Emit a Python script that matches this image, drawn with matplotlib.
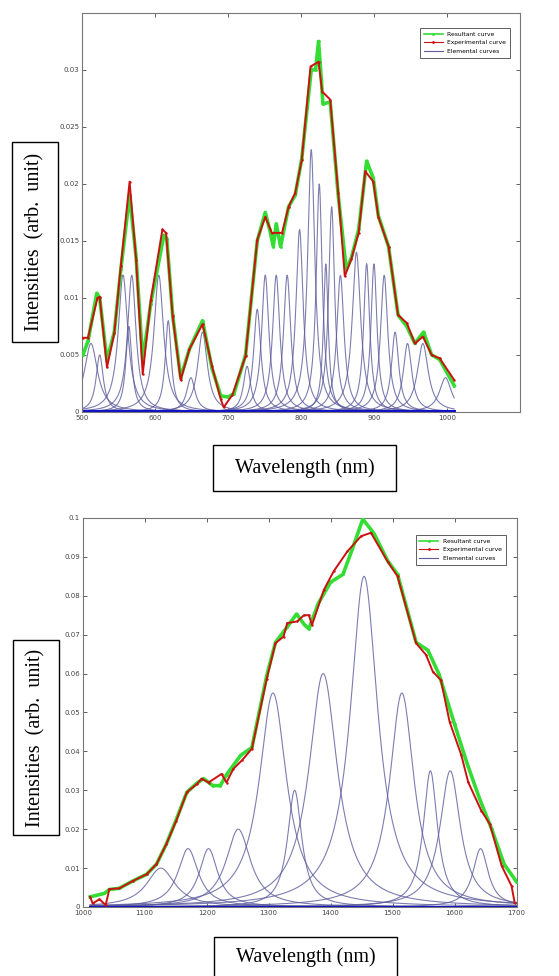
import numpy as np
import matplotlib
matplotlib.use('Agg')
import matplotlib.pyplot as plt
from matplotlib.patches import Rectangle

# ---- top panel data (500-1010 nm) ----
top_exp_x = [501, 508, 521, 524, 534, 544, 553, 565, 574, 583, 594, 610, 615, 624, 635, 647,
             665, 678, 690, 694, 706, 724, 740, 751, 760, 774, 783, 792, 801, 813, 824, 829,
             840, 851, 860, 869, 879, 888, 899, 906, 920, 933, 945, 956, 967, 979, 990, 1010]
top_exp_y = [0.0065, 0.0065, 0.0100, 0.0101, 0.0039, 0.0069, 0.0128, 0.0202, 0.0133, 0.0033,
             0.0098, 0.0160, 0.0157, 0.0084, 0.0028, 0.0055, 0.0077, 0.0040, 0.0011, 0.0004,
             0.0015, 0.0049, 0.0151, 0.0171, 0.0157, 0.0157, 0.0180, 0.0192, 0.0221, 0.0303,
             0.0307, 0.0281, 0.0274, 0.0192, 0.0119, 0.0134, 0.0157, 0.0211, 0.0202, 0.0171,
             0.0145, 0.0085, 0.0078, 0.0060, 0.0066, 0.0050, 0.0047, 0.0028]
top_res_x = [501, 508, 520, 524, 534, 544, 553, 565, 574, 583, 594, 612, 616, 624, 635, 647,
             665, 678, 690, 700, 708, 724, 740, 751, 757, 762, 766, 772, 783, 792, 801, 814,
             820, 824, 828, 830, 840, 851, 862, 869, 879, 890, 899, 906, 920, 933, 945, 956,
             968, 979, 990, 1010]
top_res_y = [0.0050, 0.0062, 0.0104, 0.0100, 0.0045, 0.0070, 0.0125, 0.0190, 0.0135, 0.0045,
             0.0095, 0.0155, 0.0152, 0.0085, 0.0030, 0.0055, 0.0080, 0.0038, 0.0014, 0.0013,
             0.0016, 0.0050, 0.0150, 0.0175, 0.0160, 0.0145, 0.0165, 0.0145, 0.0180, 0.0190,
             0.0222, 0.0300, 0.0300, 0.0325, 0.0290, 0.0270, 0.0272, 0.0190, 0.0125, 0.0135,
             0.0160, 0.0220, 0.0205, 0.0172, 0.0145, 0.0085, 0.0075, 0.0060, 0.0070, 0.0050,
             0.0046, 0.0023]
top_pk_c = [512, 524, 556, 564, 568, 605, 618, 649, 665, 726, 740, 751, 766, 781, 798, 814,
            825, 834, 842, 854, 876, 890, 900, 914, 929, 946, 967, 998]
top_pk_h = [0.0060, 0.0050, 0.0120, 0.0075, 0.0120, 0.0120, 0.0080, 0.0030, 0.0070, 0.0040,
            0.0090, 0.0120, 0.0120, 0.0120, 0.0160, 0.0230, 0.0200, 0.0130, 0.0180, 0.0120,
            0.0140, 0.0130, 0.0130, 0.0120, 0.0070, 0.0060, 0.0060, 0.0030]
top_pk_w = [11, 6, 8, 5, 7, 8, 5, 7, 8, 6, 6, 6, 6, 6, 6, 6,
            5, 4, 5, 6, 7, 5, 5, 6, 6, 7, 9, 10]

# ---- bottom panel data (1012-1700 nm) ----
bot_exp_x = [1012, 1016, 1027, 1037, 1043, 1059, 1081, 1103, 1119, 1135, 1151, 1168, 1184,
             1192, 1203, 1224, 1232, 1243, 1257, 1273, 1297, 1311, 1324, 1330, 1346, 1357,
             1365, 1370, 1389, 1405, 1427, 1449, 1465, 1492, 1508, 1538, 1554, 1565, 1578,
             1592, 1611, 1622, 1643, 1657, 1676, 1692, 1697]
bot_exp_y = [0.0026, 0.0009, 0.0020, 0.0005, 0.0046, 0.0048, 0.0067, 0.0084, 0.0110, 0.0162,
             0.0222, 0.0295, 0.0316, 0.0330, 0.0320, 0.0342, 0.0320, 0.0355, 0.0377, 0.0407,
             0.0587, 0.0678, 0.0695, 0.0730, 0.0734, 0.0750, 0.0750, 0.0725, 0.0815, 0.0863,
             0.0914, 0.0953, 0.0962, 0.0888, 0.0850, 0.0678, 0.0648, 0.0605, 0.0583, 0.0476,
             0.0390, 0.0321, 0.0248, 0.0213, 0.0106, 0.0054, 0.0011]
bot_res_x = [1012, 1035, 1043, 1059, 1081, 1103, 1119, 1135, 1151, 1168, 1184, 1195, 1210,
             1222, 1232, 1255, 1273, 1297, 1311, 1330, 1345, 1358, 1365, 1380, 1400, 1420,
             1435, 1452, 1470, 1492, 1508, 1538, 1557, 1575, 1600, 1620, 1640, 1660, 1680,
             1700]
bot_res_y = [0.0026, 0.0035, 0.0045, 0.0048, 0.0067, 0.0084, 0.0110, 0.0162, 0.0225, 0.0295,
             0.0318, 0.0330, 0.0312, 0.0312, 0.0340, 0.0390, 0.0410, 0.0595, 0.0680, 0.0720,
             0.0753, 0.0725, 0.0715, 0.0780, 0.0835, 0.0855, 0.0920, 0.0997, 0.0960, 0.0890,
             0.0855, 0.0680, 0.0660, 0.0598, 0.0470, 0.0370, 0.0280, 0.0200, 0.0110, 0.0065]
bot_pk_c = [1126, 1170, 1203, 1251, 1307, 1342, 1388, 1454, 1515, 1561, 1593, 1642]
bot_pk_h = [0.010, 0.015, 0.015, 0.020, 0.055, 0.030, 0.060, 0.085, 0.055, 0.035, 0.035, 0.015]
bot_pk_w = [28, 20, 18, 24, 27, 14, 28, 27, 24, 14, 20, 15]

labels = ['Resultant curve', 'Experimental curve', 'Elemental curves']
elem_color = '#5c5c9c'


def lorentz(x, c, h, w):
    return h / (1 + ((x - c) / w) ** 2)


def draw_panel(ax, exp_x, exp_y, res_x, res_y, pk_c, pk_h, pk_w, x0, x1):
    xx = np.linspace(x0, x1, 800)
    for c, h, w in zip(pk_c, pk_h, pk_w):
        ax.plot(xx, lorentz(xx, c, h, w), color=elem_color, lw=0.8, alpha=0.8)
    ax.plot([x0, x1], [0.00005, 0.00005], color='#1010c8', lw=2.2, zorder=2)
    ax.plot(res_x, res_y, color='#33dd33', lw=2.6, marker='.', ms=2, zorder=3)
    ax.plot(exp_x, exp_y, color='#cc1111', lw=1.4, marker='.', ms=1.5, zorder=4)


fig = plt.figure(figsize=(5.59, 9.76), dpi=100)

ax1 = fig.add_axes([0.147, 0.578, 0.783, 0.4088])
draw_panel(ax1, top_exp_x, top_exp_y, top_res_x, top_res_y,
           top_pk_c, top_pk_h, top_pk_w, 500, 1010)
ax1.set_xlim(500, 1100)
ax1.set_ylim(0, 0.035)
ax1.set_xticks([500, 600, 700, 800, 900, 1000])
ax1.set_yticks([0, 0.005, 0.01, 0.015, 0.02, 0.025, 0.03])
ax1.set_yticklabels(['0', '0.005', '0.01', '0.015', '0.02', '0.025', '0.03'])

ax2 = fig.add_axes([0.148, 0.0707, 0.776, 0.3986])
draw_panel(ax2, bot_exp_x, bot_exp_y, bot_res_x, bot_res_y,
           bot_pk_c, bot_pk_h, bot_pk_w, 1012, 1700)
ax2.set_xlim(1000, 1700)
ax2.set_ylim(0, 0.1)
ax2.set_xticks(range(1000, 1701, 100))
ax2.set_yticks([0, 0.01, 0.02, 0.03, 0.04, 0.05, 0.06, 0.07, 0.08, 0.09, 0.1])
ax2.set_yticklabels(['0', '0.01', '0.02', '0.03', '0.04', '0.05', '0.06', '0.07',
                     '0.08', '0.09', '0.1'])

for ax, anchor in [(ax1, (0.984, 0.970)), (ax2, (0.982, 0.964))]:
    ax.tick_params(direction='in', length=3, width=0.6, top=True, right=True,
                   labelsize=5, colors='#444444', pad=2)
    for s in ax.spines.values():
        s.set_color('#777777')
        s.set_linewidth(0.8)
    h1, = ax.plot([], [], color='#33dd33', lw=1.2, marker='.', ms=2)
    h2, = ax.plot([], [], color='#cc1111', lw=0.8, marker='.', ms=2)
    h3, = ax.plot([], [], color=elem_color, lw=0.8)
    leg = ax.legend([h1, h2, h3], labels, loc='upper right', bbox_to_anchor=anchor,
                    fontsize=4.3, fancybox=False, framealpha=1, edgecolor='#444444',
                    handlelength=3.2, borderpad=0.6, labelspacing=0.6)
    leg.get_frame().set_linewidth(0.6)

# boxed axis labels
boxes = [
    (0.0215, 0.6496, 0.0823, 0.2049, 'Intensities  (arb.  unit)', 90),
    (0.0233, 0.1445, 0.0823, 0.1998, 'Intensities  (arb.  unit)', 90),
    (0.381, 0.4969, 0.3274, 0.0471, 'Wavelength (nm)', 0),
    (0.3828, -0.009, 0.3274, 0.049, 'Wavelength (nm)', 0),
]
for x, y, w, h, txt, rot in boxes:
    fig.patches.append(Rectangle((x, y), w, h, transform=fig.transFigure,
                                 fill=True, facecolor='white', edgecolor='black', lw=1.0))
    cy = y + h / 2 if y >= 0 else 0.0195
    fig.text(x + w / 2, cy, txt, rotation=rot, ha='center', va='center',
             family='Liberation Serif', fontsize=14.5)

fig.savefig('out.png', dpi=100)
